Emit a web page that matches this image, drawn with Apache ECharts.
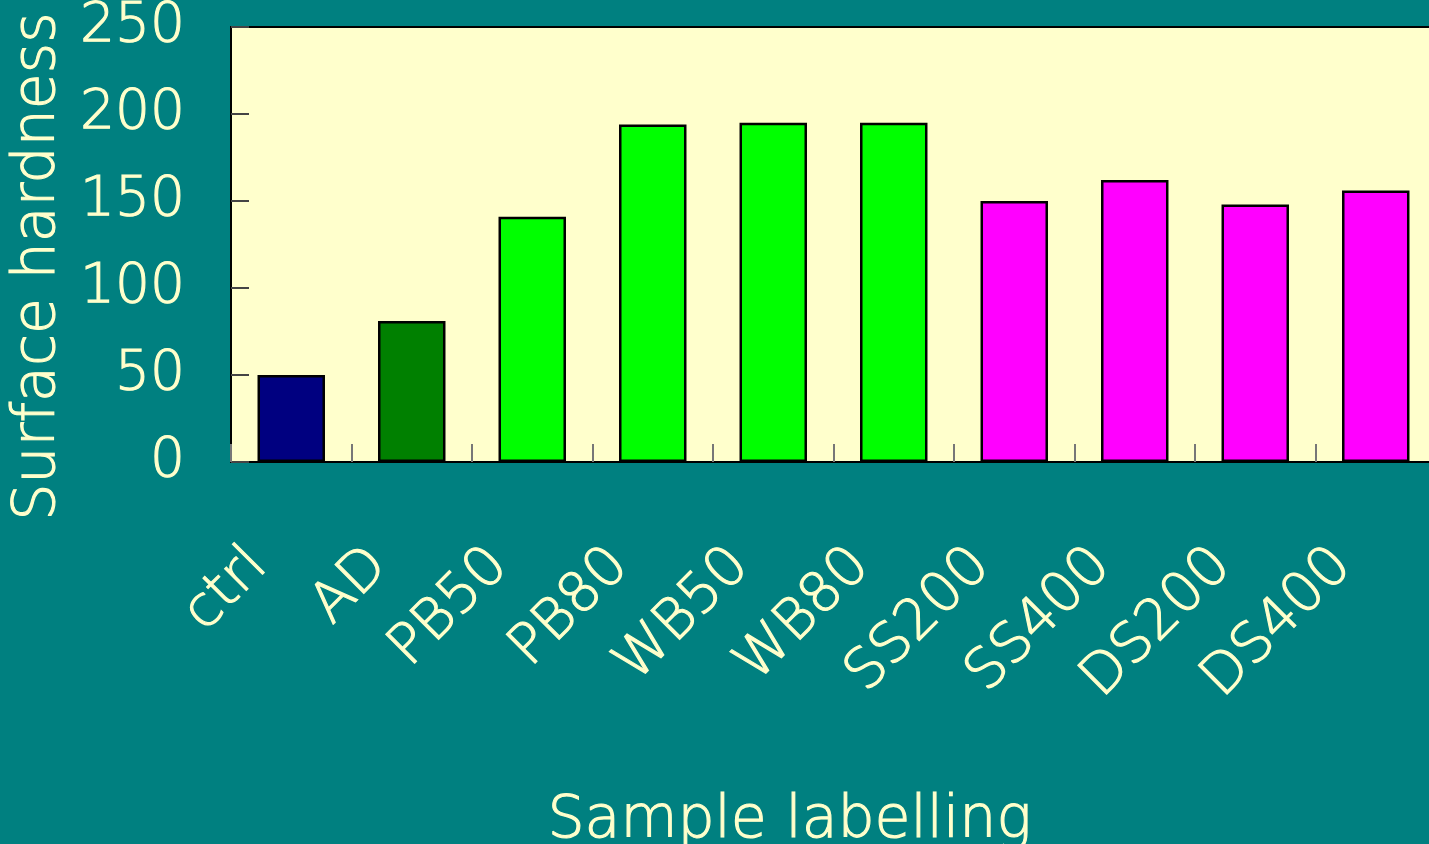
<!DOCTYPE html>
<html>
<head>
<meta charset="utf-8">
<script src="https://cdn.jsdelivr.net/npm/echarts@6/dist/echarts.min.js"></script>
<style>
  html, body { margin: 0; padding: 0; background: #008080; }
  #chart { width: 1429px; height: 844px; }
</style>
</head>
<body>
<div id="chart"></div>
<script>
// Surface hardness per sample group
const categories = ['ctrl', 'AD', 'PB50', 'PB80', 'WB50', 'WB80', 'SS200', 'SS400', 'DS200', 'DS400'];
const hardness = [50, 81, 141, 194, 195, 195, 150, 162, 148, 156];
const barColors = ['#000080', '#008000', '#00FF00', '#00FF00', '#00FF00', '#00FF00', '#FF00FF', '#FF00FF', '#FF00FF', '#FF00FF'];
const yTicks = [0, 50, 100, 150, 200, 250];

const textColor = '#FFFFCC';
// light face, slightly thickened with a same-colour outline
const textBase = {
  color: textColor,
  fontFamily: 'DejaVu Sans',
  fontWeight: 200,
  textBorderColor: textColor,
  textBorderWidth: 1.1
};

const chart = echarts.init(document.getElementById('chart'), null, { renderer: 'canvas' });

chart.setOption({
  backgroundColor: '#008080',
  animation: false,
  grid: {
    show: true,
    left: 231,
    top: 27,
    right: -7,
    bottom: 382,
    containLabel: false,
    outerBoundsMode: 'none',
    backgroundColor: '#FFFFCC',
    borderColor: '#000000',
    borderWidth: 2
  },
  xAxis: {
    type: 'category',
    data: categories,
    name: 'Sample labelling',
    nameLocation: 'middle',
    nameGap: 330,
    nameTextStyle: Object.assign({}, textBase, { fontSize: 58.5, padding: [0, 88, 0, 0] }),
    axisLine: { lineStyle: { color: '#000000', width: 2 } },
    axisTick: { show: true, inside: true, length: 18, lineStyle: { color: '#777777', width: 2 } },
    axisLabel: Object.assign({}, textBase, {
      rotate: 45,
      margin: 63,
      padding: [0, 46, 0, 0],
      fontSize: 56,
      interval: 0
    }),
    splitLine: { show: false }
  },
  yAxis: {
    type: 'value',
    min: yTicks[0],
    max: yTicks[yTicks.length - 1],
    interval: yTicks[1] - yTicks[0],
    name: 'Surface hardness',
    nameLocation: 'middle',
    nameGap: 161,
    nameTextStyle: Object.assign({}, textBase, { fontSize: 58.5, padding: [0, 44, 0, 0] }),
    axisLine: { show: true, lineStyle: { color: '#000000', width: 2 } },
    axisTick: { show: true, inside: true, length: 18, lineStyle: { color: '#444444', width: 2 } },
    axisLabel: Object.assign({}, textBase, { margin: 46, fontSize: 55 }),
    splitLine: { show: false }
  },
  series: [{
    type: 'bar',
    data: hardness.map((v, i) => ({ value: v, itemStyle: { color: barColors[i] } })),
    barWidth: '56%',
    itemStyle: { borderColor: '#000000', borderWidth: 2.5 }
  }]
});
</script>
</body>
</html>
